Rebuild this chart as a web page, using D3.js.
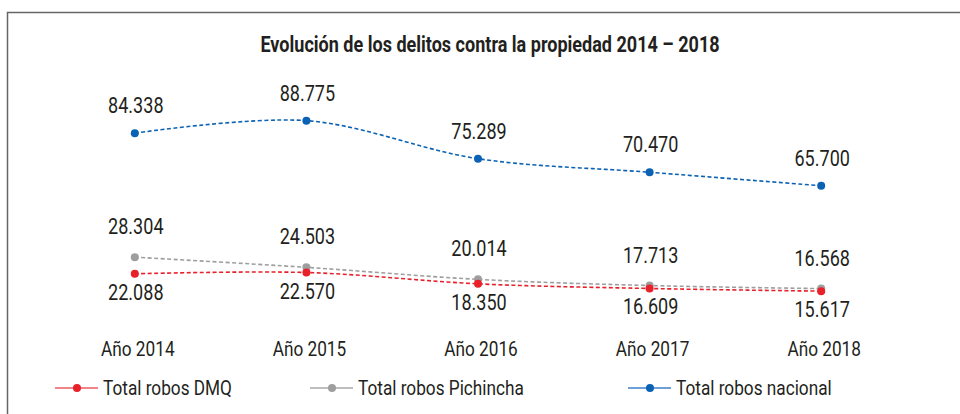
<!DOCTYPE html>
<html>
<head>
<meta charset="utf-8">
<script src="https://cdn.jsdelivr.net/npm/d3@7"></script>
<style>
  body { margin: 0; background: #fff; }
  text { font-family: Roboto, "Liberation Sans", sans-serif; fill: #231f20; }
</style>
</head>
<body>
<div id="chart"></div>
<script>
// Datos
const years = ["Año 2014", "Año 2015", "Año 2016", "Año 2017", "Año 2018"];
const dmq = [22088, 22570, 18350, 16609, 15617];
const pichincha = [28304, 24503, 20014, 17713, 16568];
const nacional = [84338, 88775, 75289, 70470, 65700];
const seriesNames = ["Total robos DMQ", "Total robos Pichincha", "Total robos nacional"];

const width = 960, height = 414;
const sx = 0.82; // estrechar Roboto para parecer "condensed"
const fmt = v => d3.format(",")(v).replace(/,/g, ".");

const svg = d3.select("#chart").append("svg")
    .attr("width", width)
    .attr("height", height);

// texto condensado
function label(sel, px, py) {
  return sel.attr("transform", (d, i) => `translate(${px(d, i)},${py(d, i)}) scale(${sx},1)`);
}

// marco
svg.append("rect")
    .attr("x", 7.5).attr("y", 12.5)
    .attr("width", 980).attr("height", 420)
    .attr("fill", "none")
    .attr("stroke", "#666").attr("stroke-width", 1.5);

// titulo
svg.append("text")
    .attr("transform", `translate(490,52) scale(${sx},1)`)
    .attr("text-anchor", "middle")
    .style("font-size", "22px")
    .style("font-weight", "bold")
    .text("Evolución de los delitos contra la propiedad 2014 – 2018");

// escalas
const x = d3.scalePoint().domain(years).range([49, 907]).padding(0.5);
const yL = d3.scaleLinear().domain([0, 100000]).range([333, 65]);   // eje principal (DMQ, Pichincha)
const yR = d3.scaleLinear().domain([0, 100000]).range([371, 89]);   // eje secundario (nacional)

const series = [
  {name: seriesNames[0], values: dmq, y: yL, color: "#e8202a", legend: "#ee5a60", dy: 26},
  {name: seriesNames[1], values: pichincha, y: yL, color: "#9e9e9e", legend: "#a8a8a8", dy: -23},
  {name: seriesNames[2], values: nacional, y: yR, color: "#0b62b5", legend: "#3d82c8", dy: -20}
];

const line = d3.line().curve(d3.curveCatmullRom.alpha(0.5));

// lineas (nacional, pichincha, dmq)
for (const s of series.slice().reverse()) {
  const pts = s.values.map((v, i) => [x(years[i]), s.y(v)]);
  svg.append("path")
    .attr("d", line(pts))
    .attr("fill", "none")
    .attr("stroke", s.color)
    .attr("stroke-width", 1.6)
    .attr("stroke-dasharray", "4,2.5");
}
for (const s of series.slice().reverse()) {
  svg.append("g").selectAll("circle")
    .data(s.values)
    .join("circle")
    .attr("cx", (d, i) => x(years[i]))
    .attr("cy", d => s.y(d))
    .attr("r", 4)
    .attr("fill", s.color);
}

// etiquetas de datos
for (const s of series) {
  svg.append("g").selectAll("text")
    .data(s.values)
    .join("text")
    .call(label, (d, i) => x(years[i]) + 1, d => s.y(d) + s.dy)
    .attr("text-anchor", "middle")
    .style("font-size", "22px")
    .text(d => fmt(d));
}

// etiquetas del eje x
svg.append("g").selectAll("text")
  .data(years)
  .join("text")
  .call(label, d => x(d) + 3, () => 356)
  .attr("text-anchor", "middle")
  .style("font-size", "21px")
  .text(d => d);

// leyenda
const legendX = [55, 310, 628];
series.forEach((s, i) => {
  const g = svg.append("g").attr("transform", `translate(${legendX[i]},388)`);
  g.append("line").attr("x1", 0).attr("x2", 43).attr("stroke", s.legend).attr("stroke-width", 1.6);
  g.append("circle").attr("cx", 22).attr("r", 4).attr("fill", s.color);
  g.append("text")
    .attr("transform", `translate(48,7) scale(${sx},1)`)
    .style("font-size", "21px")
    .text(s.name);
});
</script>
</body>
</html>
